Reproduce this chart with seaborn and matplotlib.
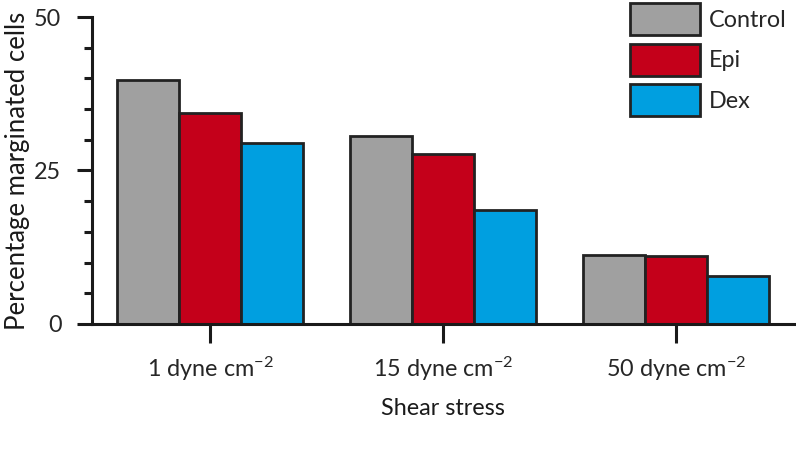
import numpy as np
import pandas as pd
import seaborn as sns
import matplotlib.pyplot as plt
from matplotlib.ticker import MultipleLocator

# values
stress = ["1 dyne cm$^{-2}$", "15 dyne cm$^{-2}$", "50 dyne cm$^{-2}$"]
treatments = ["Control", "Epi", "Dex"]
control = [39.7, 30.6, 11.2]
epi = [34.4, 27.7, 11.1]
dex = [29.5, 18.6, 7.8]
colors = ["#a0a0a0", "#c4001a", "#009fe0"]

df = pd.DataFrame({
    "Shear stress": stress * 3,
    "Treatment": np.repeat(treatments, 3),
    "Percentage": control + epi + dex,
})

sns.set_style("ticks")
plt.rcParams["font.family"] = ["Lato", "DejaVu Sans"]
plt.rcParams["mathtext.fontset"] = "custom"
plt.rcParams["mathtext.rm"] = "Lato"
plt.rcParams["mathtext.default"] = "regular"

fs = 16.8
ink = "#1a1a1a"

fig = plt.figure(figsize=(7.96, 4.55), dpi=100)
ax = fig.add_axes([0.1156, 0.288, 0.882, 0.6746])

sns.barplot(
    data=df,
    x="Shear stress",
    y="Percentage",
    hue="Treatment",
    palette=dict(zip(treatments, colors)),
    saturation=1,
    width=0.8,
    edgecolor="#222222",
    linewidth=2,
    ax=ax,
)

ax.set_xlim(-0.508, 2.508)
ax.set_ylim(0, 50)
ax.set_yticks([0, 25, 50])
ax.yaxis.set_minor_locator(MultipleLocator(5))

sns.despine(ax=ax)
for side in ["left", "bottom"]:
    ax.spines[side].set_linewidth(2.2)
    ax.spines[side].set_color(ink)

ax.tick_params(axis="y", which="major", length=11, width=2.2, labelsize=fs, color=ink, pad=11)
ax.tick_params(axis="y", which="minor", length=6, width=2.2, color=ink)
ax.tick_params(axis="x", which="major", length=14, width=2.2, labelsize=fs, color=ink, pad=8)

ax.set_xlabel("Shear stress", fontsize=fs, labelpad=11, color=ink)
ax.set_ylabel("Percentage marginated cells", fontsize=18.5, labelpad=3, color=ink)

ax.legend(
    loc="upper right",
    bbox_to_anchor=(0.99, 1.046),
    frameon=False,
    fontsize=fs,
    handlelength=3.0,
    handleheight=1.75,
    labelspacing=0.36,
    handletextpad=0.4,
    borderaxespad=0,
    borderpad=0,
)

fig.savefig("out.png", dpi=100)
